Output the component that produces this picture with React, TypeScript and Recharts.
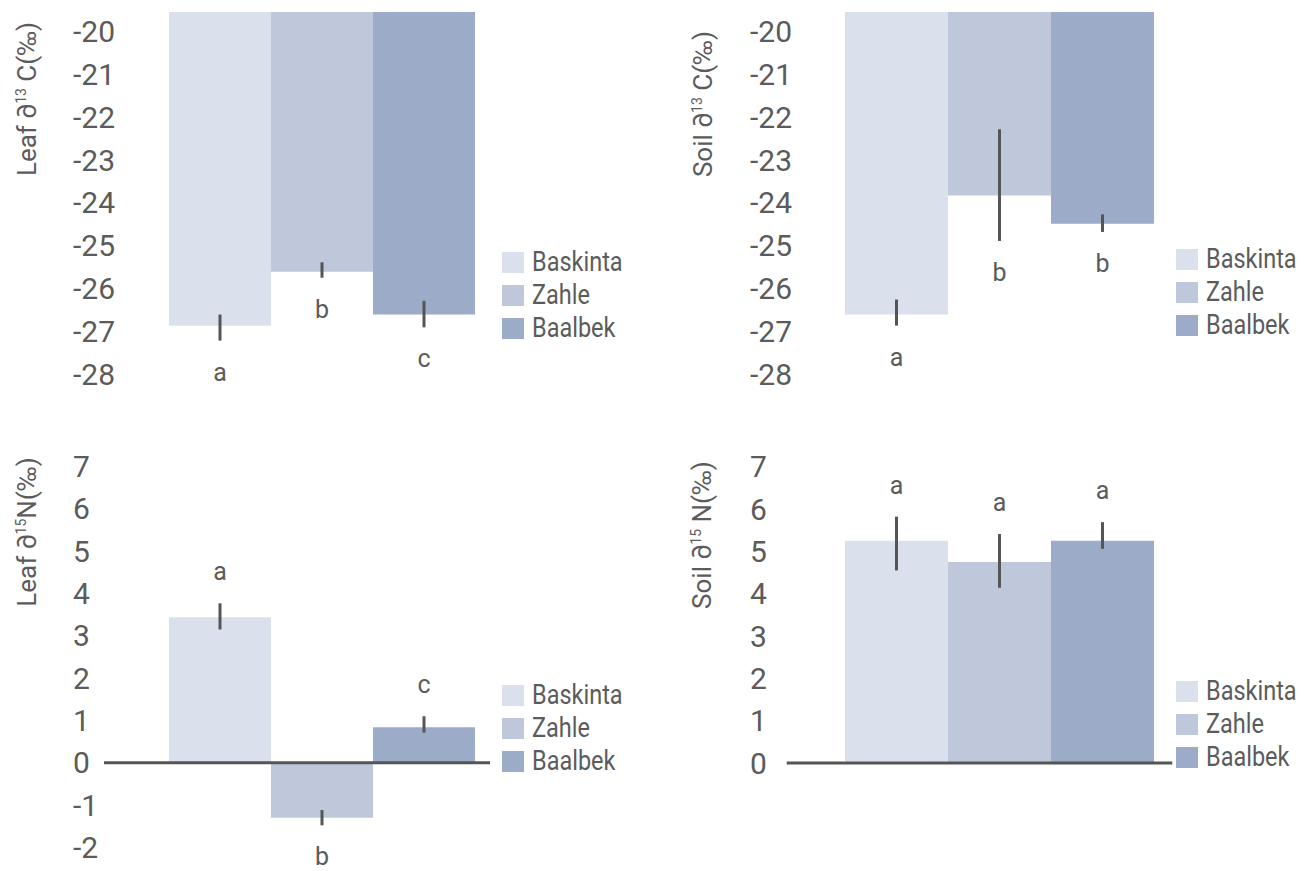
import React from "react";
import {
  Bar,
  BarChart,
  ErrorBar,
  LabelList,
  Legend,
  ReferenceLine,
  XAxis,
  YAxis,
} from "recharts";

const sites = ["Baskinta", "Zahle", "Baalbek"];
const siteColors = ["#dbe1ec", "#bec8da", "#9cacc8"];

// error bars are [minus, plus]
const leafC13 = [-26.87, -25.61, -26.61];
const leafC13Err = [[0.35, 0.26], [0.14, 0.22], [0.3, 0.32]];
const leafC13Letters = ["a", "b", "c"];

const soilC13 = [-26.61, -23.83, -24.49];
const soilC13Err = [[0.26, 0.35], [1.06, 1.55], [0.19, 0.22]];
const soilC13Letters = ["a", "b", "b"];

const leafN15 = [3.44, -1.3, 0.84];
const leafN15Err = [[0.29, 0.33], [0.18, 0.18], [0.13, 0.26]];
const leafN15Letters = ["a", "b", "c"];

const soilN15 = [5.25, 4.75, 5.25];
const soilN15Err = [[0.7, 0.57], [0.61, 0.66], [0.19, 0.44]];
const soilN15Letters = ["a", "a", "a"];

const c13Ticks = [-20, -21, -22, -23, -24, -25, -26, -27, -28];
const leafN15Ticks = [7, 6, 5, 4, 3, 2, 1, 0, -1, -2];
const soilN15Ticks = [7, 6, 5, 4, 3, 2, 1, 0];

const leafC13Title = ["Leaf ∂", "13", " C(‰)"];
const soilC13Title = ["Soil ∂", "13", " C(‰)"];
const leafN15Title = ["Leaf ∂", "15", "N(‰)"];
const soilN15Title = ["Soil ∂", "15", " N(‰)"];

const FONT = "Roboto, 'Noto Sans', 'DejaVu Sans', sans-serif";
const INK = "#5b5b5b";
const LINE = "#555555";
// the original face is a narrow DIN-like font, so squeeze Roboto a bit
const LEGEND_SX = 0.87;

const buildRows = (values: number[], errs: number[][]) => {
  const row: any = { group: "all" };
  sites.forEach((s, i) => {
    row[s] = values[i];
    row[s + "Err"] = errs[i];
  });
  return [row];
};

const panels = [
  {
    key: "leafC13",
    values: leafC13,
    errs: leafC13Err,
    letters: leafC13Letters,
    ticks: c13Ticks,
    title: leafC13Title,
    domain: [-28, -19.54],
    zero: false,
    left: 0, top: 0, width: 660, height: 400,
    plot: { x0: 104, x1: 490, y0: 12, y1: 374 },
    padL: 65, padR: 14.3,
    tickX: 73, titleX: 27, titleY: 99,
    legendX: 502, legendY: 252,
  },
  {
    key: "soilC13",
    values: soilC13,
    errs: soilC13Err,
    letters: soilC13Letters,
    ticks: c13Ticks,
    title: soilC13Title,
    domain: [-28, -19.54],
    zero: false,
    left: 660, top: 0, width: 645, height: 400,
    plot: { x0: 126.7, x1: 512.3, y0: 12, y1: 374 },
    padL: 58.3, padR: 19.6,
    tickX: 90, titleX: 43, titleY: 104,
    legendX: 516, legendY: 249,
  },
  {
    key: "leafN15",
    values: leafN15,
    errs: leafN15Err,
    letters: leafN15Letters,
    ticks: leafN15Ticks,
    title: leafN15Title,
    domain: [-2, 7],
    zero: true,
    left: 0, top: 420, width: 660, height: 451,
    plot: { x0: 104, x1: 490, y0: 46.7, y1: 427.3 },
    padL: 65, padR: 14.3,
    tickX: 73, titleX: 27, titleY: 112,
    legendX: 502, legendY: 265,
  },
  {
    key: "soilN15",
    values: soilN15,
    errs: soilN15Err,
    letters: soilN15Letters,
    ticks: soilN15Ticks,
    title: soilN15Title,
    domain: [0, 7],
    zero: true,
    left: 660, top: 420, width: 645, height: 451,
    plot: { x0: 126.7, x1: 512.3, y0: 46.7, y1: 343 },
    padL: 58.3, padR: 19.6,
    tickX: 90, titleX: 42, titleY: 115,
    legendX: 516, legendY: 260.7,
  },
];

type Panel = (typeof panels)[number];

const baseOf = (d: number[]) => {
  if (d[0] <= 0 && d[1] >= 0) return 0;
  return d[1] < 0 ? d[1] : d[0];
};

// significance letter sits a fixed distance beyond the end of the error bar
const letterContent = (p: Panel, i: number) => (props: any) => {
  const vb = props.viewBox || props;
  const { x, y, width, height } = vb;
  const top = Math.min(y, y + height);
  const bottom = Math.max(y, y + height);
  const pxPerUnit = (p.plot.y1 - p.plot.y0) / (p.domain[1] - p.domain[0]);
  const down = p.values[i] < baseOf(p.domain);
  const ty = down
    ? bottom + p.errs[i][0] * pxPerUnit + 40
    : top - p.errs[i][1] * pxPerUnit - 23;
  return (
    <text
      x={x + width / 2}
      y={ty}
      textAnchor="middle"
      fontFamily={FONT}
      fontSize={25}
      fill={INK}
    >
      {p.letters[i]}
    </text>
  );
};

const legendContent = ({ payload }: any) => {
  const items = [...(payload || [])].sort(
    (a: any, b: any) => sites.indexOf(a.value) - sites.indexOf(b.value),
  );
  return (
    <div style={{ fontFamily: FONT, color: INK, fontSize: 27 }}>
      {items.map((entry: any) => (
        <div
          key={entry.value}
          style={{ display: "flex", alignItems: "center", height: 33 }}
        >
          <span
            style={{
              display: "inline-block",
              width: 22,
              height: 21,
              background: entry.color,
              marginRight: 8,
            }}
          />
          <span
            style={{
              display: "inline-block",
              lineHeight: "33px",
              transform: `scaleX(${LEGEND_SX})`,
              transformOrigin: "left center",
              whiteSpace: "nowrap",
            }}
          >
            {entry.value}
          </span>
        </div>
      ))}
    </div>
  );
};

const PanelChart = ({ p }: { p: Panel }) => {
  const data = buildRows(p.values, p.errs);
  return (
    <div style={{ position: "absolute", left: p.left, top: p.top }}>
      <BarChart
        width={p.width}
        height={p.height}
        data={data}
        barGap={0}
        barCategoryGap={0}
        margin={{
          top: p.plot.y0,
          bottom: p.height - p.plot.y1,
          left: 0,
          right: p.width - p.plot.x1,
        }}
      >
        <XAxis
          dataKey="group"
          type="category"
          hide
          padding={{ left: p.padL, right: p.padR }}
        />
        <YAxis
          type="number"
          width={p.plot.x0}
          domain={p.domain}
          ticks={p.ticks}
          interval={0}
          axisLine={false}
          tickLine={false}
          tickSize={0}
          tickMargin={0}
          tick={(t: any) => (
            <text
              x={p.tickX}
              y={t.y + 10.5}
              textAnchor="start"
              fontFamily={FONT}
              fontSize={30}
              fill={INK}
            >
              {t.payload.value}
            </text>
          )}
          label={() => (
            <g transform={`translate(${p.titleX}, ${p.titleY}) rotate(-90)`}>
              <text
                x={0}
                y={0}
                textAnchor="middle"
                dy={9}
                fontFamily={FONT}
                fontSize={26}
                fill={INK}
              >
                {p.title[0]}
                <tspan fontSize={14} dy={-10}>
                  {p.title[1]}
                </tspan>
                <tspan dy={10}>{p.title[2]}</tspan>
              </text>
            </g>
          )}
        />
        {sites.map((s, i) => (
          <Bar
            key={s}
            dataKey={s}
            name={s}
            fill={siteColors[i]}
            isAnimationActive={false}
          >
            <ErrorBar
              dataKey={s + "Err"}
              width={0}
              stroke={LINE}
              strokeWidth={3}
              direction="y"
              isAnimationActive={false}
            />
            <LabelList dataKey={s} content={letterContent(p, i)} />
          </Bar>
        ))}
        {p.zero && <ReferenceLine y={0} stroke={LINE} strokeWidth={3} />}
        <Legend
          layout="vertical"
          align="center"
          verticalAlign="middle"
          content={legendContent}
          wrapperStyle={{
            left: p.legendX,
            top: p.legendY - 6,
            width: "auto",
            height: "auto",
          }}
        />
      </BarChart>
    </div>
  );
};

export default function App() {
  return (
    <div
      style={{
        position: "absolute",
        left: 0,
        top: 0,
        width: 1305,
        height: 871,
        background: "#ffffff",
        overflow: "hidden",
      }}
    >
      {panels.map((p) => (
        <PanelChart key={p.key} p={p} />
      ))}
    </div>
  );
}
